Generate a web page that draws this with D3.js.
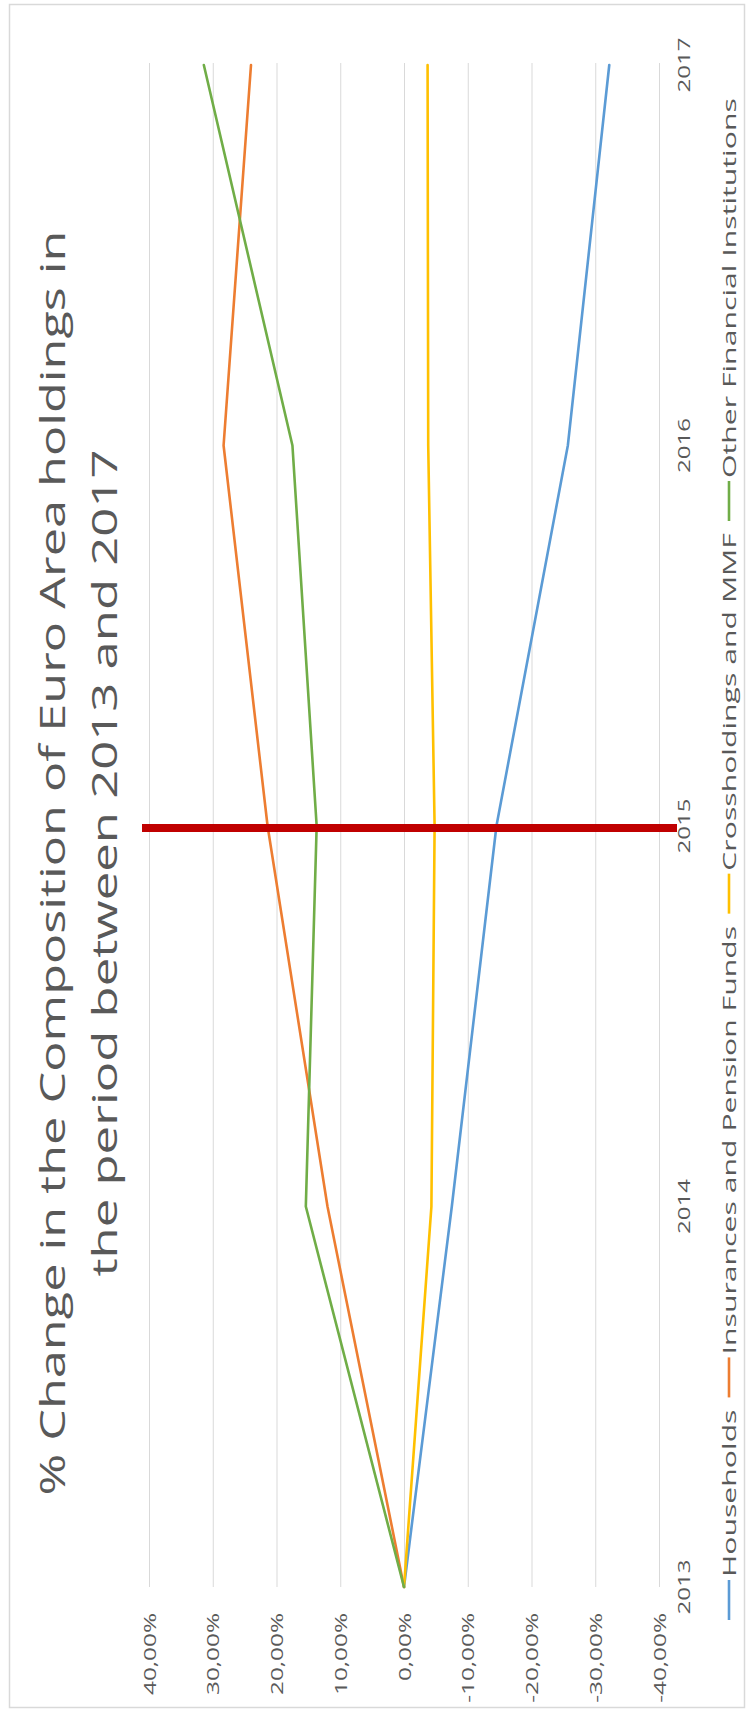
<!DOCTYPE html>
<html><head><meta charset="utf-8">
<script src="https://cdn.jsdelivr.net/npm/d3@7"></script>
<style>html,body{margin:0;padding:0;background:#fff;} svg{display:block;} text{font-family:"Open Sans",sans-serif;}</style>
</head><body>
<script>
// ---- data ----
const years = ["2013", "2014", "2015", "2016", "2017"];
const households = [0, -7.5, -14.5, -25.7, -32.2];
const insurances = [0, 12.0, 21.4, 28.3, 24.0];
const crossholdings = [0, -4.3, -4.8, -3.8, -3.7];
const otherFinancial = [0, 15.4, 13.7, 17.5, 31.4];
const seriesNames = ["Households", "Insurances and Pension Funds", "Crossholdings  and MMF", "Other Financial Institutions"];
const valueTicks = [40, 30, 20, 10, 0, -10, -20, -30, -40];
const highlightYear = "2015";
const titleLines = ["% Change in the Composition of Euro Area holdings in", "the period between 2013 and 2017"];

const seriesColors = ["#5b9bd5", "#ed7d31", "#ffc000", "#70ad47"];
const seriesValues = [households, insurances, crossholdings, otherFinancial];

const W = 750, H = 1713;
const svg = d3.select("body").append("svg").attr("width", W).attr("height", H);
svg.append("rect").attr("x", 9.5).attr("y", 4.5).attr("width", 735).attr("height", 1703)
  .attr("fill", "#fff").attr("stroke", "#d9d9d9").attr("stroke-width", 1.5);

const x = d3.scaleLinear().domain([40, -40]).range([149, 659]);
const y = d3.scalePoint().domain(years).range([1587, 65]);

const loc = d3.formatLocale({decimal: ",", thousands: ".", grouping: [3], currency: ["", "€"], minus: "-", percent: "%"});
const fmt = v => loc.format(".2f")(v) + "%";

// gridlines
svg.append("g").selectAll("line").data(valueTicks).join("line")
  .attr("x1", d => x(d) + 0.5).attr("x2", d => x(d) + 0.5)
  .attr("y1", y.range()[1] - 2).attr("y2", y.range()[0])
  .attr("stroke", "#d9d9d9").attr("stroke-width", 1);

function stretch(sel, target, sample) {
  // measure a sample text and return factor to stretch along the text direction
  const t = svg.append("text").attr("font-size", sel.fs).text(sample);
  const len = t.node().getComputedTextLength();
  t.remove();
  return target / len;
}

// value labels
const tickFs = 16.5;
const kTick = stretch({fs: tickFs}, 82, "40,00%");
svg.append("g").selectAll("text").data(valueTicks).join("text")
  .attr("transform", d => `translate(${x(d) + 6.5},${y.range()[0] + 26}) scale(1,${kTick}) rotate(-90)`)
  .attr("text-anchor", "end").attr("font-size", tickFs).attr("fill", "#595959")
  .text(d => fmt(d));

// category labels
const catFs = 17;
const kCat = stretch({fs: catFs}, 55, "2015");
svg.append("g").selectAll("text").data(years).join("text")
  .attr("transform", d => `translate(690,${y(d)}) scale(1,${kCat}) rotate(-90)`)
  .attr("text-anchor", "middle").attr("font-size", catFs).attr("fill", "#595959")
  .text(d => d);

// series lines
const line = d3.line().x(d => x(d.v)).y(d => y(d.year));
seriesValues.forEach((vals, i) => {
  const pts = years.map((yr, j) => ({year: yr, v: vals[j]}));
  svg.append("path").datum(pts).attr("d", line)
    .attr("fill", "none").attr("stroke", seriesColors[i]).attr("stroke-width", 2.6)
    .attr("stroke-linejoin", "round").attr("stroke-linecap", "round");
});

// highlight line at 2015
svg.append("line")
  .attr("x1", x.range()[0] - 7).attr("x2", 677)
  .attr("y1", y(highlightYear) + 2).attr("y2", y(highlightYear) + 2)
  .attr("stroke", "#c00000").attr("stroke-width", 8);

// title
const titleX = [65, 117];
const titleLen = [1265, 827];
const titleCY = 863;
titleLines.forEach((t, i) => {
  svg.append("text")
    .attr("transform", `translate(${titleX[i]},${titleCY}) rotate(-90)`)
    .attr("text-anchor", "middle").attr("font-size", 35).attr("fill", "#595959")
    .attr("textLength", titleLen[i]).attr("lengthAdjust", "spacingAndGlyphs")
    .text(t);
});

// legend
const legFs = 18, symLen = 40, symGap = 3, entryGap = 12;
const legTop = 98, legBottom = 1620;
const lens = seriesNames.map(n => {
  const t = svg.append("text").attr("font-size", legFs).text(n);
  const l = t.node().getComputedTextLength(); t.remove(); return l;
});
const textTotal = d3.sum(lens);
const fixedTotal = seriesNames.length * (symLen + symGap) + (seriesNames.length - 1) * entryGap;
const kLeg = (legBottom - legTop - fixedTotal) / textTotal;
let cur = legBottom;
const lg = svg.append("g");
seriesNames.forEach((n, i) => {
  lg.append("line").attr("x1", 729).attr("x2", 729).attr("y1", cur).attr("y2", cur - symLen)
    .attr("stroke", seriesColors[i]).attr("stroke-width", 2.6);
  cur -= symLen + symGap;
  lg.append("text").attr("transform", `translate(736,${cur}) scale(1,${kLeg}) rotate(-90)`)
    .attr("font-size", legFs).attr("fill", "#595959").text(n);
  cur -= lens[i] * kLeg + entryGap;
});
</script>
</body></html>
